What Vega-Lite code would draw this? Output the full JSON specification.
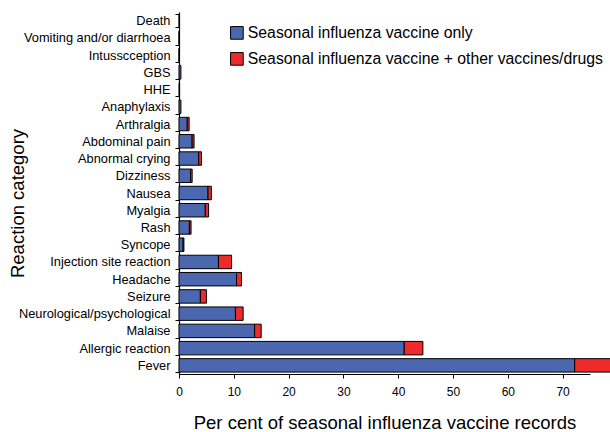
{
  "$schema": "https://vega.github.io/schema/vega-lite/v6.json",
  "autosize": {"type": "none"},
  "width": 411,
  "height": 362,
  "padding": {"left": 179, "top": 12, "right": 20, "bottom": 58},
  "background": "white",
  "config": {
    "view": {"stroke": null},
    "font": "Liberation Sans",
    "axis": {"labelFont": "Liberation Sans", "titleFont": "Liberation Sans", "domainColor": "black", "tickColor": "black", "labelColor": "black", "titleColor": "black", "grid": false, "titleFontWeight": "normal"}
  },
  "data": {
    "values": [
      {"category": "Death", "group": "Seasonal influenza vaccine only", "k": 1, "value": 0.05},
      {"category": "Vomiting and/or diarrhoea", "group": "Seasonal influenza vaccine only", "k": 1, "value": 0},
      {"category": "Intusscception", "group": "Seasonal influenza vaccine only", "k": 1, "value": 0},
      {"category": "GBS", "group": "Seasonal influenza vaccine only", "k": 1, "value": 0.35},
      {"category": "HHE", "group": "Seasonal influenza vaccine only", "k": 1, "value": 0.1},
      {"category": "Anaphylaxis", "group": "Seasonal influenza vaccine only", "k": 1, "value": 0.35},
      {"category": "Arthralgia", "group": "Seasonal influenza vaccine only", "k": 1, "value": 1.5},
      {"category": "Arthralgia", "group": "Seasonal influenza vaccine + other vaccines/drugs", "k": 2, "value": 0.35},
      {"category": "Abdominal pain", "group": "Seasonal influenza vaccine only", "k": 1, "value": 2.4},
      {"category": "Abdominal pain", "group": "Seasonal influenza vaccine + other vaccines/drugs", "k": 2, "value": 0.35},
      {"category": "Abnormal crying", "group": "Seasonal influenza vaccine only", "k": 1, "value": 3.6},
      {"category": "Abnormal crying", "group": "Seasonal influenza vaccine + other vaccines/drugs", "k": 2, "value": 0.5},
      {"category": "Dizziness", "group": "Seasonal influenza vaccine only", "k": 1, "value": 2.1},
      {"category": "Dizziness", "group": "Seasonal influenza vaccine + other vaccines/drugs", "k": 2, "value": 0.3},
      {"category": "Nausea", "group": "Seasonal influenza vaccine only", "k": 1, "value": 5.3},
      {"category": "Nausea", "group": "Seasonal influenza vaccine + other vaccines/drugs", "k": 2, "value": 0.6},
      {"category": "Myalgia", "group": "Seasonal influenza vaccine only", "k": 1, "value": 4.8},
      {"category": "Myalgia", "group": "Seasonal influenza vaccine + other vaccines/drugs", "k": 2, "value": 0.6},
      {"category": "Rash", "group": "Seasonal influenza vaccine only", "k": 1, "value": 1.9},
      {"category": "Rash", "group": "Seasonal influenza vaccine + other vaccines/drugs", "k": 2, "value": 0.3},
      {"category": "Syncope", "group": "Seasonal influenza vaccine only", "k": 1, "value": 0.75},
      {"category": "Syncope", "group": "Seasonal influenza vaccine + other vaccines/drugs", "k": 2, "value": 0.15},
      {"category": "Injection site reaction", "group": "Seasonal influenza vaccine only", "k": 1, "value": 7.2},
      {"category": "Injection site reaction", "group": "Seasonal influenza vaccine + other vaccines/drugs", "k": 2, "value": 2.4},
      {"category": "Headache", "group": "Seasonal influenza vaccine only", "k": 1, "value": 10.5},
      {"category": "Headache", "group": "Seasonal influenza vaccine + other vaccines/drugs", "k": 2, "value": 0.9},
      {"category": "Seizure", "group": "Seasonal influenza vaccine only", "k": 1, "value": 3.9},
      {"category": "Seizure", "group": "Seasonal influenza vaccine + other vaccines/drugs", "k": 2, "value": 1.1},
      {"category": "Neurological/psychological", "group": "Seasonal influenza vaccine only", "k": 1, "value": 10.3},
      {"category": "Neurological/psychological", "group": "Seasonal influenza vaccine + other vaccines/drugs", "k": 2, "value": 1.4},
      {"category": "Malaise", "group": "Seasonal influenza vaccine only", "k": 1, "value": 13.8},
      {"category": "Malaise", "group": "Seasonal influenza vaccine + other vaccines/drugs", "k": 2, "value": 1.2},
      {"category": "Allergic reaction", "group": "Seasonal influenza vaccine only", "k": 1, "value": 41.1},
      {"category": "Allergic reaction", "group": "Seasonal influenza vaccine + other vaccines/drugs", "k": 2, "value": 3.4},
      {"category": "Fever", "group": "Seasonal influenza vaccine only", "k": 1, "value": 72.2},
      {"category": "Fever", "group": "Seasonal influenza vaccine + other vaccines/drugs", "k": 2, "value": 7.0}
    ]
  },
  "mark": {"type": "bar", "stroke": "black", "strokeWidth": 1, "clip": false},
  "encoding": {
    "y": {
      "field": "category", "type": "nominal", "sort": null,
      "scale": {"paddingInner": 0.22, "paddingOuter": 0.11},
      "axis": {"title": "Reaction category", "titleFontSize": 18.5, "titleX": -152, "titleY": 191, "labelFontSize": 12.8, "tickBand": "extent", "tickSize": 4, "labelPadding": 5, "domainWidth": 1.2}
    },
    "x": {
      "field": "value", "type": "quantitative", "stack": "zero",
      "scale": {"domain": [0, 75], "nice": false},
      "axis": {"title": "Per cent of seasonal influenza vaccine records", "titleFontSize": 18.5, "titlePadding": 16, "labelFontSize": 12, "values": [0, 10, 20, 30, 40, 50, 60, 70], "tickSize": 4, "labelPadding": 8, "labelFlush": false, "domainWidth": 1.2}
    },
    "color": {
      "field": "group", "type": "nominal",
      "scale": {"domain": ["Seasonal influenza vaccine only", "Seasonal influenza vaccine + other vaccines/drugs"], "range": ["#4a67b0", "#ee2a2a"]},
      "legend": {"title": null, "orient": "none", "legendX": 50, "legendY": 13, "symbolType": "square", "symbolSize": 160, "symbolStrokeColor": "black", "symbolStrokeWidth": 1, "labelFontSize": 15.8, "labelFont": "Liberation Sans", "labelColor": "black", "rowPadding": 8, "labelLimit": 400, "labelOffset": 3}
    },
    "order": {"field": "k", "type": "quantitative"}
  }
}
